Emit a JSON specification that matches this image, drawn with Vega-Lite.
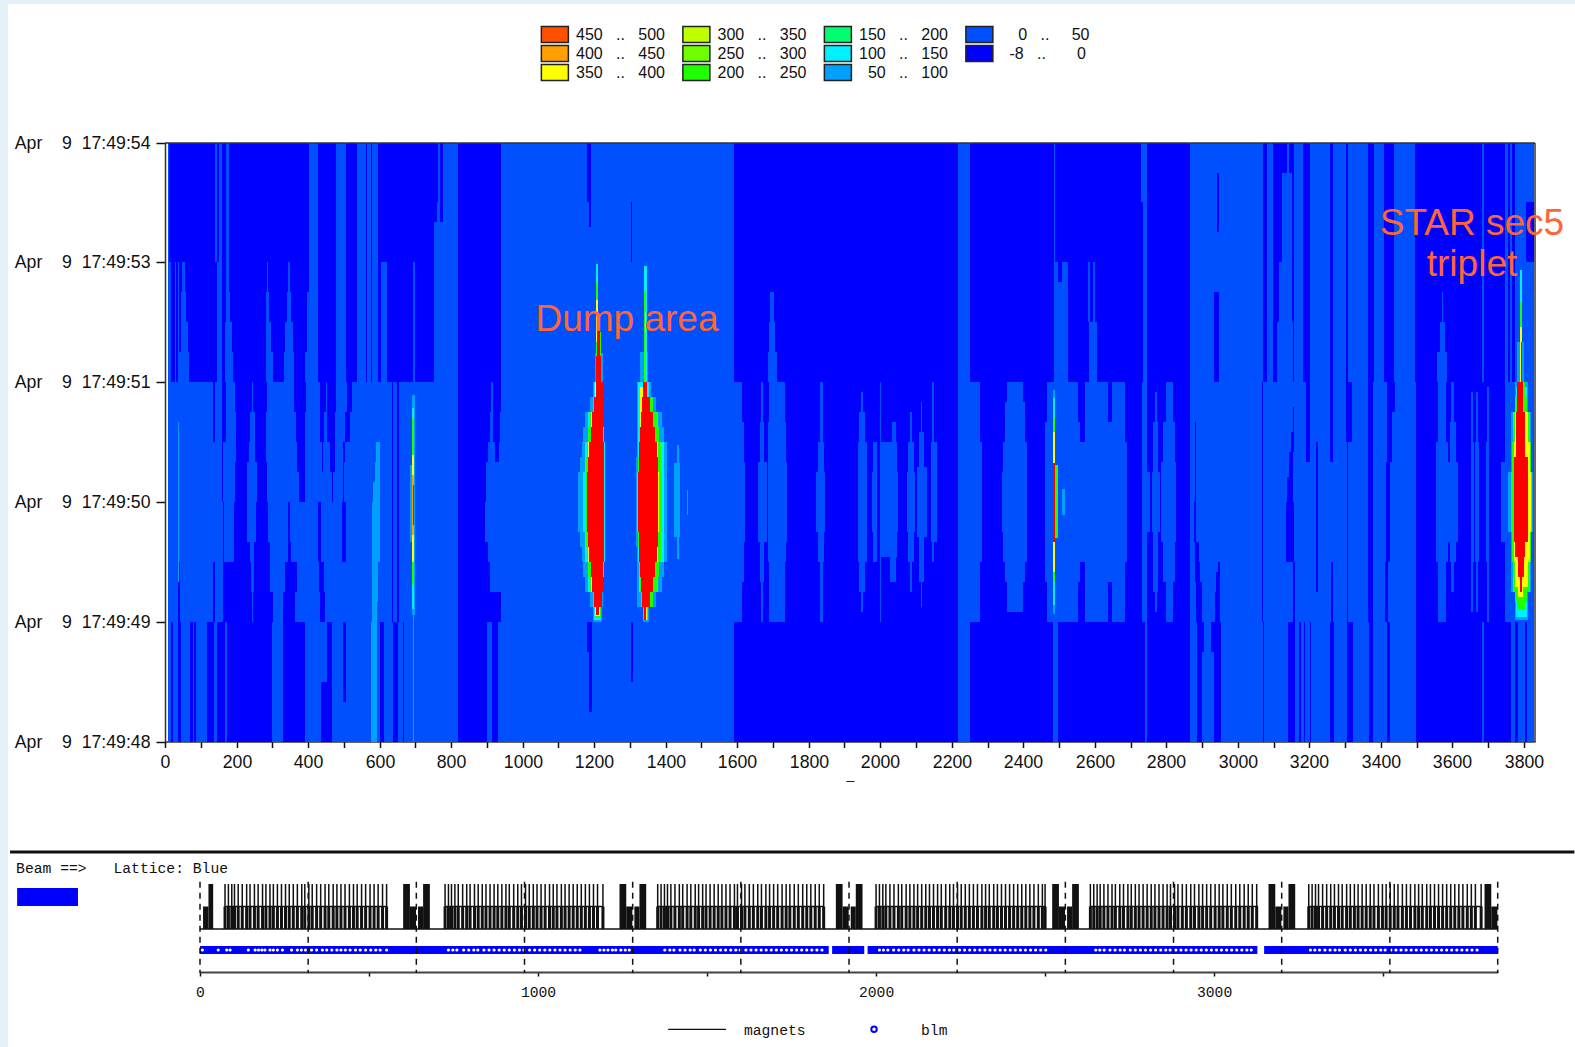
{"$schema":"https://vega.github.io/schema/vega-lite/v6.json","width":1575,"height":1047,"autosize":{"type":"fit","contains":"padding"},"padding":{"left":8,"top":4,"right":0,"bottom":0},"background":"#e4f1f8","view":{"fill":"white","stroke":null},
"config":{"font":"Liberation Sans","axis":{"grid":false,"labelColor":"#111","tickColor":"#111","domainColor":"#333"}},
"datasets":{
"contour":[
{"x":7,"x2":3828,"t":48,"t2":54,"b":"-8 .. 0"},
{"x":7,"x2":12,"t":51.6,"t2":54,"b":"0 .. 50"},{"x":139,"x2":145,"t":52.8,"t2":54,"b":"0 .. 50"},{"x":151,"x2":158,"t":52.8,"t2":54,"b":"0 .. 50"},{"x":145,"x2":158,"t":51.6,"t2":52.8,"b":"0 .. 50"},
{"x":170,"x2":180,"t":52.5,"t2":54,"b":"0 .. 50"},{"x":170,"x2":182,"t":52.2,"t2":52.5,"b":"0 .. 50"},{"x":168,"x2":186,"t":51.9,"t2":52.2,"b":"0 .. 50"},{"x":168,"x2":190,"t":51.6,"t2":51.9,"b":"0 .. 50"},
{"x":403,"x2":429,"t":52.5,"t2":54,"b":"0 .. 50"},{"x":397,"x2":429,"t":51.9,"t2":52.5,"b":"0 .. 50"},{"x":391,"x2":429,"t":51.6,"t2":51.9,"b":"0 .. 50"},
{"x":477,"x2":507,"t":51.6,"t2":54,"b":"0 .. 50"},{"x":536,"x2":561,"t":51.6,"t2":54,"b":"0 .. 50"},{"x":566,"x2":576,"t":51.6,"t2":54,"b":"0 .. 50"},{"x":579,"x2":597,"t":51.6,"t2":54,"b":"0 .. 50"},
{"x":763,"x2":769,"t":53.4,"t2":54,"b":"0 .. 50"},{"x":776,"x2":819,"t":53.2,"t2":54,"b":"0 .. 50"},{"x":760,"x2":770,"t":53.2,"t2":53.4,"b":"0 .. 50"},{"x":752,"x2":819,"t":51.6,"t2":53.2,"b":"0 .. 50"},
{"x":10,"x2":18,"t":51.6,"t2":52.8,"b":"0 .. 50"},{"x":27,"x2":30,"t":51.6,"t2":52.8,"b":"0 .. 50"},{"x":35,"x2":40,"t":51.6,"t2":52.8,"b":"0 .. 50"},{"x":48,"x2":55,"t":52.5,"t2":52.8,"b":"0 .. 50"},{"x":45,"x2":60,"t":52.2,"t2":52.5,"b":"0 .. 50"},{"x":45,"x2":64,"t":51.9,"t2":52.2,"b":"0 .. 50"},{"x":39,"x2":68,"t":51.6,"t2":51.9,"b":"0 .. 50"},
{"x":285,"x2":289,"t":52.5,"t2":52.8,"b":"0 .. 50"},{"x":283,"x2":291,"t":52.2,"t2":52.5,"b":"0 .. 50"},{"x":282,"x2":297,"t":51.9,"t2":52.2,"b":"0 .. 50"},{"x":282,"x2":301,"t":51.6,"t2":51.9,"b":"0 .. 50"},
{"x":345,"x2":350,"t":52.5,"t2":52.8,"b":"0 .. 50"},{"x":342,"x2":352,"t":52.2,"t2":52.5,"b":"0 .. 50"},{"x":335,"x2":358,"t":51.9,"t2":52.2,"b":"0 .. 50"},{"x":332,"x2":360,"t":51.6,"t2":51.9,"b":"0 .. 50"},
{"x":605,"x2":620,"t":51.6,"t2":52.8,"b":"0 .. 50"},{"x":694,"x2":700,"t":51.6,"t2":52.8,"b":"0 .. 50"},
{"x":940,"x2":1592,"t":48,"t2":54,"b":"0 .. 50"},
{"x":1693,"x2":1702,"t":52.2,"t2":52.5,"b":"0 .. 50"},{"x":1690,"x2":1705,"t":51.9,"t2":52.2,"b":"0 .. 50"},{"x":1687,"x2":1712,"t":51.6,"t2":51.9,"b":"0 .. 50"},
{"x":2218,"x2":2250,"t":48,"t2":54,"b":"0 .. 50"},
{"x":2487,"x2":2490,"t":52.8,"t2":54,"b":"0 .. 50"},{"x":2487,"x2":2497,"t":52.6,"t2":52.8,"b":"0 .. 50"},{"x":2508,"x2":2526,"t":52.6,"t2":52.8,"b":"0 .. 50"},{"x":2487,"x2":2526,"t":51.6,"t2":52.6,"b":"0 .. 50"},
{"x":2581,"x2":2586,"t":52.2,"t2":52.8,"b":"0 .. 50"},{"x":2595,"x2":2602,"t":52.2,"t2":52.8,"b":"0 .. 50"},{"x":2584,"x2":2605,"t":51.6,"t2":52.2,"b":"0 .. 50"},
{"x":2729,"x2":2746,"t":53.4,"t2":54,"b":"0 .. 50"},{"x":2736,"x2":2746,"t":51.6,"t2":53.4,"b":"0 .. 50"},
{"x":2865,"x2":3070,"t":51.6,"t2":54,"b":"0 .. 50"},{"x":3081,"x2":3099,"t":51.6,"t2":54,"b":"0 .. 50"},
{"x":3137,"x2":3144,"t":53.7,"t2":54,"b":"0 .. 50"},{"x":3123,"x2":3151,"t":52.8,"t2":53.7,"b":"0 .. 50"},{"x":3116,"x2":3151,"t":52.2,"t2":52.8,"b":"0 .. 50"},{"x":3109,"x2":3154,"t":51.6,"t2":52.2,"b":"0 .. 50"},
{"x":3158,"x2":3182,"t":51.6,"t2":54,"b":"0 .. 50"},{"x":3203,"x2":3257,"t":51.6,"t2":54,"b":"0 .. 50"},{"x":3265,"x2":3303,"t":51.6,"t2":54,"b":"0 .. 50"},{"x":3307,"x2":3365,"t":51.6,"t2":54,"b":"0 .. 50"},{"x":3381,"x2":3410,"t":51.6,"t2":54,"b":"0 .. 50"},{"x":3438,"x2":3496,"t":51.6,"t2":54,"b":"0 .. 50"},
{"x":3570,"x2":3574,"t":52.2,"t2":52.5,"b":"0 .. 50"},{"x":3565,"x2":3579,"t":51.9,"t2":52.2,"b":"0 .. 50"},{"x":3558,"x2":3586,"t":51.6,"t2":51.9,"b":"0 .. 50"},
{"x":3684,"x2":3688,"t":51.6,"t2":54,"b":"0 .. 50"},{"x":3748,"x2":3755,"t":51.6,"t2":54,"b":"0 .. 50"},{"x":3761,"x2":3768,"t":51.6,"t2":54,"b":"0 .. 50"},{"x":3775,"x2":3807,"t":52.8,"t2":54,"b":"0 .. 50"},{"x":3807,"x2":3828,"t":53.4,"t2":54,"b":"0 .. 50"},{"x":3775,"x2":3828,"t":51.6,"t2":52.8,"b":"0 .. 50"},
{"x":1181,"x2":1191,"t":53.4,"t2":54,"b":"-8 .. 0"},{"x":1187,"x2":1191,"t":53.15,"t2":53.4,"b":"-8 .. 0"},{"x":1303,"x2":1307,"t":52.8,"t2":53.4,"b":"-8 .. 0"},{"x":2941,"x2":2948,"t":53.1,"t2":53.7,"b":"-8 .. 0"},{"x":2934,"x2":2948,"t":51.6,"t2":52.5,"b":"-8 .. 0"},
{"x":7,"x2":17,"t":48,"t2":49.2,"b":"0 .. 50"},{"x":21,"x2":35,"t":48,"t2":49.2,"b":"0 .. 50"},{"x":45,"x2":70,"t":48,"t2":49.2,"b":"0 .. 50"},{"x":78,"x2":80,"t":48,"t2":49.2,"b":"0 .. 50"},{"x":88,"x2":117,"t":48,"t2":49.2,"b":"0 .. 50"},{"x":138,"x2":145,"t":48,"t2":49.2,"b":"0 .. 50"},{"x":167,"x2":174,"t":48,"t2":49.2,"b":"0 .. 50"},
{"x":299,"x2":331,"t":48,"t2":49.2,"b":"0 .. 50"},{"x":391,"x2":435,"t":48,"t2":49.2,"b":"0 .. 50"},{"x":435,"x2":452,"t":48.6,"t2":49.2,"b":"0 .. 50"},{"x":466,"x2":820,"t":48,"t2":49.2,"b":"0 .. 50"},{"x":901,"x2":915,"t":48,"t2":49.2,"b":"0 .. 50"},{"x":930,"x2":940,"t":48,"t2":49.2,"b":"0 .. 50"},
{"x":498,"x2":506,"t":48.4,"t2":49.2,"b":"-8 .. 0"},{"x":601,"x2":612,"t":48,"t2":49.2,"b":"-8 .. 0"},{"x":637,"x2":652,"t":48,"t2":49.2,"b":"-8 .. 0"},{"x":666,"x2":669,"t":48,"t2":49.2,"b":"-8 .. 0"},
{"x":1179,"x2":1194,"t":48.9,"t2":49.2,"b":"-8 .. 0"},{"x":1187,"x2":1193,"t":48.3,"t2":48.9,"b":"-8 .. 0"},{"x":1304,"x2":1308,"t":48.6,"t2":49.2,"b":"-8 .. 0"},
{"x":2482,"x2":2498,"t":48,"t2":49.2,"b":"0 .. 50"},{"x":2740,"x2":2747,"t":48,"t2":49.2,"b":"0 .. 50"},{"x":2866,"x2":2887,"t":48,"t2":49.2,"b":"0 .. 50"},{"x":2905,"x2":2925,"t":48.9,"t2":49.2,"b":"0 .. 50"},{"x":2901,"x2":2934,"t":48,"t2":48.9,"b":"0 .. 50"},{"x":2952,"x2":3070,"t":48,"t2":49.2,"b":"0 .. 50"},{"x":3074,"x2":3139,"t":48,"t2":49.2,"b":"0 .. 50"},{"x":3160,"x2":3171,"t":48,"t2":49.2,"b":"0 .. 50"},{"x":3176,"x2":3185,"t":48,"t2":49.2,"b":"0 .. 50"},{"x":3187,"x2":3201,"t":48,"t2":49.2,"b":"0 .. 50"},{"x":3205,"x2":3259,"t":48,"t2":49.2,"b":"0 .. 50"},{"x":3268,"x2":3305,"t":48,"t2":49.2,"b":"0 .. 50"},{"x":3323,"x2":3367,"t":48,"t2":49.2,"b":"0 .. 50"},{"x":3378,"x2":3416,"t":48,"t2":49.2,"b":"0 .. 50"},{"x":3426,"x2":3499,"t":48,"t2":49.2,"b":"0 .. 50"},{"x":3683,"x2":3689,"t":48,"t2":49.2,"b":"0 .. 50"},{"x":3765,"x2":3776,"t":48,"t2":49.2,"b":"0 .. 50"},{"x":3783,"x2":3803,"t":48,"t2":49.2,"b":"0 .. 50"},{"x":3810,"x2":3828,"t":48,"t2":49.2,"b":"0 .. 50"},
{"x":7,"x2":940,"t":49.2,"t2":51.6,"b":"0 .. 50"},{"x":1592,"x2":1613,"t":49.2,"t2":51.6,"b":"0 .. 50"},{"x":1592,"x2":1618,"t":49.6,"t2":51.2,"b":"0 .. 50"},{"x":1592,"x2":1622,"t":50,"t2":50.8,"b":"0 .. 50"},
{"x":1667,"x2":1671,"t":49.2,"t2":51.6,"b":"0 .. 50"},{"x":1664,"x2":1675,"t":49.6,"t2":51.2,"b":"0 .. 50"},{"x":1659,"x2":1683,"t":50,"t2":50.8,"b":"0 .. 50"},
{"x":1690,"x2":1734,"t":49.2,"t2":51.6,"b":"0 .. 50"},{"x":1687,"x2":1737,"t":49.8,"t2":51.2,"b":"0 .. 50"},{"x":1687,"x2":1740,"t":50,"t2":50.8,"b":"0 .. 50"},
{"x":1832,"x2":1839,"t":49.2,"t2":51.6,"b":"0 .. 50"},{"x":1827,"x2":1843,"t":49.8,"t2":51,"b":"0 .. 50"},{"x":1820,"x2":1846,"t":50.1,"t2":50.7,"b":"0 .. 50"},
{"x":1945,"x2":1951,"t":49.3,"t2":51.5,"b":"0 .. 50"},{"x":1942,"x2":1957,"t":49.5,"t2":51.3,"b":"0 .. 50"},{"x":1939,"x2":1964,"t":49.8,"t2":51,"b":"0 .. 50"},
{"x":1981,"x2":1990,"t":49.8,"t2":51,"b":"0 .. 50"},{"x":1976,"x2":1992,"t":50.1,"t2":50.7,"b":"0 .. 50"},{"x":1998,"x2":2001,"t":49.2,"t2":51.6,"b":"0 .. 50"},
{"x":1998,"x2":2046,"t":49.85,"t2":51,"b":"0 .. 50"},{"x":1998,"x2":2051,"t":50.1,"t2":50.7,"b":"0 .. 50"},{"x":2032,"x2":2043,"t":51,"t2":51.2,"b":"0 .. 50"},{"x":2027,"x2":2043,"t":49.6,"t2":49.85,"b":"0 .. 50"},
{"x":2083,"x2":2088,"t":49.5,"t2":51.3,"b":"0 .. 50"},{"x":2079,"x2":2094,"t":49.8,"t2":51,"b":"0 .. 50"},{"x":2074,"x2":2097,"t":50.1,"t2":50.7,"b":"0 .. 50"},
{"x":2113,"x2":2118,"t":49.35,"t2":51.4,"b":"0 .. 50"},{"x":2109,"x2":2122,"t":49.6,"t2":51.1,"b":"0 .. 50"},{"x":2104,"x2":2130,"t":50.05,"t2":50.75,"b":"0 .. 50"},
{"x":2146,"x2":2150,"t":49.8,"t2":51.6,"b":"0 .. 50"},{"x":2142,"x2":2158,"t":50,"t2":51,"b":"0 .. 50"},
{"x":2218,"x2":2279,"t":49.2,"t2":51.6,"b":"0 .. 50"},{"x":2218,"x2":2284,"t":49.8,"t2":51,"b":"0 .. 50"},
{"x":2354,"x2":2400,"t":49.3,"t2":51.6,"b":"0 .. 50"},{"x":2349,"x2":2405,"t":49.6,"t2":51.4,"b":"0 .. 50"},{"x":2344,"x2":2410,"t":49.8,"t2":51,"b":"0 .. 50"},{"x":2340,"x2":2410,"t":50.1,"t2":50.7,"b":"0 .. 50"},
{"x":2465,"x2":2554,"t":49.2,"t2":51.6,"b":"0 .. 50"},{"x":2461,"x2":2563,"t":49.6,"t2":51.2,"b":"0 .. 50"},{"x":2461,"x2":2690,"t":49.8,"t2":51,"b":"0 .. 50"},{"x":2573,"x2":2638,"t":49.2,"t2":51.6,"b":"0 .. 50"},{"x":2647,"x2":2684,"t":49.2,"t2":51.6,"b":"0 .. 50"},{"x":2638,"x2":2647,"t":49.6,"t2":51.2,"b":"0 .. 50"},
{"x":2732,"x2":2746,"t":49.2,"t2":51.6,"b":"0 .. 50"},{"x":2731,"x2":2754,"t":50.1,"t2":50.7,"b":"0 .. 50"},
{"x":2768,"x2":2773,"t":49.3,"t2":51.5,"b":"0 .. 50"},{"x":2763,"x2":2777,"t":49.5,"t2":51.2,"b":"0 .. 50"},{"x":2759,"x2":2782,"t":50.1,"t2":50.7,"b":"0 .. 50"},
{"x":2799,"x2":2819,"t":49.2,"t2":51.6,"b":"0 .. 50"},{"x":2791,"x2":2824,"t":49.6,"t2":51.2,"b":"0 .. 50"},{"x":2786,"x2":2828,"t":50,"t2":50.8,"b":"0 .. 50"},
{"x":2866,"x2":3497,"t":49.2,"t2":51.6,"b":"0 .. 50"},
{"x":3560,"x2":3581,"t":49.2,"t2":51.6,"b":"0 .. 50"},{"x":3555,"x2":3588,"t":49.8,"t2":51,"b":"0 .. 50"},
{"x":3597,"x2":3604,"t":49.5,"t2":51.6,"b":"0 .. 50"},{"x":3593,"x2":3610,"t":49.8,"t2":51.2,"b":"0 .. 50"},{"x":3588,"x2":3616,"t":50,"t2":50.8,"b":"0 .. 50"},
{"x":3653,"x2":3658,"t":49.3,"t2":51.5,"b":"0 .. 50"},{"x":3665,"x2":3672,"t":49.3,"t2":51.5,"b":"0 .. 50"},{"x":3651,"x2":3660,"t":49.8,"t2":51,"b":"0 .. 50"},{"x":3663,"x2":3674,"t":49.8,"t2":51,"b":"0 .. 50"},
{"x":3698,"x2":3703,"t":49.2,"t2":51.55,"b":"0 .. 50"},{"x":3693,"x2":3703,"t":49.8,"t2":51,"b":"0 .. 50"},
{"x":3746,"x2":3828,"t":49.2,"t2":51.6,"b":"0 .. 50"},{"x":3737,"x2":3828,"t":50,"t2":50.8,"b":"0 .. 50"},
{"x":37,"x2":42,"t":49.2,"t2":49.8,"b":"-8 .. 0"},{"x":135,"x2":140,"t":51,"t2":51.6,"b":"-8 .. 0"},{"x":135,"x2":140,"t":49.2,"t2":49.8,"b":"-8 .. 0"},
{"x":160,"x2":170,"t":51,"t2":51.6,"b":"-8 .. 0"},{"x":159,"x2":163,"t":50.4,"t2":51,"b":"-8 .. 0"},{"x":161,"x2":165,"t":49.8,"t2":50.4,"b":"-8 .. 0"},{"x":163,"x2":186,"t":49.2,"t2":49.8,"b":"-8 .. 0"},
{"x":196,"x2":242,"t":51.3,"t2":51.6,"b":"-8 .. 0"},{"x":199,"x2":238,"t":51,"t2":51.3,"b":"-8 .. 0"},{"x":199,"x2":235,"t":50.8,"t2":51,"b":"-8 .. 0"},{"x":196,"x2":230,"t":50.4,"t2":50.8,"b":"-8 .. 0"},{"x":193,"x2":230,"t":50,"t2":50.4,"b":"-8 .. 0"},{"x":193,"x2":238,"t":49.8,"t2":50,"b":"-8 .. 0"},{"x":186,"x2":240,"t":49.5,"t2":49.8,"b":"-8 .. 0"},{"x":180,"x2":242,"t":49.2,"t2":49.5,"b":"-8 .. 0"},
{"x":247,"x2":284,"t":51.3,"t2":51.6,"b":"-8 .. 0"},{"x":251,"x2":283,"t":50.8,"t2":51.3,"b":"-8 .. 0"},{"x":256,"x2":284,"t":50.4,"t2":50.8,"b":"-8 .. 0"},{"x":254,"x2":289,"t":50,"t2":50.4,"b":"-8 .. 0"},{"x":250,"x2":294,"t":49.5,"t2":50,"b":"-8 .. 0"},{"x":245,"x2":301,"t":49.2,"t2":49.5,"b":"-8 .. 0"},
{"x":362,"x2":393,"t":51.3,"t2":51.6,"b":"-8 .. 0"},{"x":366,"x2":391,"t":51,"t2":51.3,"b":"-8 .. 0"},{"x":370,"x2":391,"t":50.7,"t2":51,"b":"-8 .. 0"},{"x":376,"x2":391,"t":50.4,"t2":50.7,"b":"-8 .. 0"},{"x":345,"x2":349,"t":50,"t2":50.4,"b":"-8 .. 0"},{"x":343,"x2":351,"t":49.8,"t2":50,"b":"-8 .. 0"},{"x":335,"x2":368,"t":49.5,"t2":49.8,"b":"-8 .. 0"},{"x":331,"x2":363,"t":49.2,"t2":49.5,"b":"-8 .. 0"},
{"x":433,"x2":449,"t":51.3,"t2":51.6,"b":"-8 .. 0"},{"x":452,"x2":478,"t":51.3,"t2":51.6,"b":"-8 .. 0"},{"x":433,"x2":445,"t":51,"t2":51.3,"b":"-8 .. 0"},{"x":452,"x2":475,"t":51,"t2":51.3,"b":"-8 .. 0"},{"x":440,"x2":443,"t":50.7,"t2":51,"b":"-8 .. 0"},{"x":461,"x2":475,"t":50.7,"t2":51,"b":"-8 .. 0"},{"x":466,"x2":471,"t":50.4,"t2":50.7,"b":"-8 .. 0"},{"x":429,"x2":435,"t":49.8,"t2":50.4,"b":"-8 .. 0"},{"x":431,"x2":445,"t":49.5,"t2":49.8,"b":"-8 .. 0"},{"x":433,"x2":447,"t":49.2,"t2":49.5,"b":"-8 .. 0"},
{"x":508,"x2":522,"t":51.3,"t2":51.6,"b":"-8 .. 0"},{"x":503,"x2":517,"t":51,"t2":51.3,"b":"-8 .. 0"},{"x":499,"x2":504,"t":50.8,"t2":51,"b":"-8 .. 0"},{"x":497,"x2":500,"t":50.4,"t2":50.8,"b":"-8 .. 0"},{"x":494,"x2":506,"t":49.8,"t2":50.4,"b":"-8 .. 0"},
{"x":634,"x2":638,"t":49.2,"t2":51.6,"b":"-8 .. 0"},{"x":648,"x2":654,"t":49.2,"t2":51.6,"b":"-8 .. 0"},
{"x":820,"x2":913,"t":51.3,"t2":51.6,"b":"-8 .. 0"},{"x":918,"x2":939,"t":51.3,"t2":51.6,"b":"-8 .. 0"},{"x":820,"x2":909,"t":51,"t2":51.3,"b":"-8 .. 0"},{"x":918,"x2":936,"t":51,"t2":51.3,"b":"-8 .. 0"},{"x":820,"x2":904,"t":50.8,"t2":51,"b":"-8 .. 0"},{"x":923,"x2":935,"t":50.8,"t2":51,"b":"-8 .. 0"},{"x":820,"x2":898,"t":50.4,"t2":50.8,"b":"-8 .. 0"},{"x":820,"x2":895,"t":50,"t2":50.4,"b":"-8 .. 0"},{"x":820,"x2":904,"t":49.8,"t2":50,"b":"-8 .. 0"},{"x":820,"x2":909,"t":49.5,"t2":49.8,"b":"-8 .. 0"},{"x":820,"x2":918,"t":49.2,"t2":49.5,"b":"-8 .. 0"},{"x":918,"x2":939,"t":49.2,"t2":49.5,"b":"-8 .. 0"},
{"x":2559,"x2":2573,"t":51,"t2":51.6,"b":"-8 .. 0"},{"x":2559,"x2":2570,"t":49.2,"t2":49.8,"b":"-8 .. 0"},
{"x":2880,"x2":2884,"t":50.4,"t2":51.2,"b":"-8 .. 0"},{"x":2877,"x2":2884,"t":50,"t2":50.4,"b":"-8 .. 0"},{"x":2880,"x2":2891,"t":49.8,"t2":50,"b":"-8 .. 0"},{"x":2880,"x2":2894,"t":49.6,"t2":49.8,"b":"-8 .. 0"},{"x":2884,"x2":2901,"t":49.2,"t2":49.6,"b":"-8 .. 0"},
{"x":2936,"x2":2950,"t":49.2,"t2":49.5,"b":"-8 .. 0"},{"x":2940,"x2":2951,"t":49.5,"t2":49.7,"b":"-8 .. 0"},{"x":2945,"x2":2951,"t":49.7,"t2":49.8,"b":"-8 .. 0"},
{"x":3068,"x2":3071,"t":49.2,"t2":51.6,"b":"-8 .. 0"},{"x":3153,"x2":3158,"t":51.1,"t2":51.35,"b":"-8 .. 0"},{"x":3148,"x2":3157,"t":50.9,"t2":51.1,"b":"-8 .. 0"},{"x":3143,"x2":3155,"t":50.65,"t2":50.9,"b":"-8 .. 0"},{"x":3138,"x2":3155,"t":50.4,"t2":50.65,"b":"-8 .. 0"},{"x":3136,"x2":3157,"t":49.8,"t2":50.4,"b":"-8 .. 0"},{"x":3155,"x2":3159,"t":49.2,"t2":49.8,"b":"-8 .. 0"},
{"x":3192,"x2":3201,"t":50.8,"t2":51.6,"b":"-8 .. 0"},{"x":3218,"x2":3223,"t":49.5,"t2":51,"b":"-8 .. 0"},{"x":3257,"x2":3265,"t":50.8,"t2":51.6,"b":"-8 .. 0"},{"x":3260,"x2":3265,"t":49.2,"t2":49.8,"b":"-8 .. 0"},{"x":3302,"x2":3318,"t":51,"t2":51.6,"b":"-8 .. 0"},{"x":3304,"x2":3308,"t":49.2,"t2":51,"b":"-8 .. 0"},{"x":3364,"x2":3378,"t":49.2,"t2":51.6,"b":"-8 .. 0"},
{"x":3416,"x2":3439,"t":51.3,"t2":51.6,"b":"-8 .. 0"},{"x":3416,"x2":3430,"t":50.8,"t2":51.3,"b":"-8 .. 0"},{"x":3414,"x2":3425,"t":49.8,"t2":50.8,"b":"-8 .. 0"},{"x":3411,"x2":3420,"t":49.2,"t2":49.8,"b":"-8 .. 0"},
{"x":590,"x2":601,"t":50.8,"t2":51,"b":"50 .. 100"},{"x":587,"x2":601,"t":50.6,"t2":50.8,"b":"50 .. 100"},{"x":582,"x2":601,"t":50.4,"t2":50.6,"b":"50 .. 100"},{"x":578,"x2":601,"t":49.8,"t2":50.4,"b":"50 .. 100"},{"x":578,"x2":597,"t":49.4,"t2":49.8,"b":"50 .. 100"},{"x":578,"x2":592,"t":49.2,"t2":49.4,"b":"50 .. 100"},{"x":577,"x2":592,"t":48,"t2":49.2,"b":"50 .. 100"},
{"x":36,"x2":40,"t":49.6,"t2":51.2,"b":"50 .. 100"},{"x":694,"x2":697,"t":48,"t2":49.3,"b":"50 .. 100"},
{"x":691,"x2":698,"t":49.27,"t2":51.47,"b":"50 .. 100"},{"x":686,"x2":698,"t":50,"t2":50.77,"b":"50 .. 100"},{"x":692,"x2":697,"t":49.33,"t2":51.34,"b":"100 .. 150"},{"x":692,"x2":697,"t":49.57,"t2":51.24,"b":"200 .. 250"},{"x":692,"x2":696,"t":49.8,"t2":50.87,"b":"350 .. 400"},{"x":692,"x2":696,"t":50.07,"t2":50.67,"b":"400 .. 450"},{"x":693,"x2":696,"t":50.17,"t2":50.57,"b":"500+"},
{"x":2484,"x2":2489,"t":49.28,"t2":51.52,"b":"50 .. 100"},{"x":2484,"x2":2489,"t":49.37,"t2":51.44,"b":"100 .. 150"},{"x":2484,"x2":2490,"t":49.6,"t2":51.24,"b":"200 .. 250"},{"x":2484,"x2":2497,"t":50.04,"t2":50.77,"b":"200 .. 250"},{"x":2484,"x2":2490,"t":49.7,"t2":51.1,"b":"350 .. 400"},{"x":2484,"x2":2488,"t":50,"t2":50.79,"b":"500+"},{"x":2507,"x2":2517,"t":50.27,"t2":50.53,"b":"50 .. 100"},
{"x":1423,"x2":1440,"t":50.05,"t2":50.79,"b":"50 .. 100"},{"x":1431,"x2":1436,"t":49.83,"t2":50.97,"b":"50 .. 100"},{"x":1459,"x2":1463,"t":50.27,"t2":50.52,"b":"50 .. 100"},
{"x":1198,"x2":1221,"t":49.2,"t2":51.6,"b":"50 .. 100"},{"x":1188,"x2":1224,"t":49.35,"t2":51.45,"b":"50 .. 100"},{"x":1174,"x2":1226,"t":49.5,"t2":51.3,"b":"50 .. 100"},{"x":1170,"x2":1228,"t":49.65,"t2":51.15,"b":"50 .. 100"},{"x":1165,"x2":1230,"t":49.8,"t2":51,"b":"50 .. 100"},{"x":1160,"x2":1230,"t":49.95,"t2":50.85,"b":"50 .. 100"},{"x":1156,"x2":1230,"t":50.1,"t2":50.7,"b":"50 .. 100"},
{"x":1199,"x2":1219,"t":49.22,"t2":51.6,"b":"100 .. 150"},{"x":1184,"x2":1226,"t":49.5,"t2":51.3,"b":"100 .. 150"},{"x":1174,"x2":1229,"t":49.8,"t2":51,"b":"100 .. 150"},{"x":1168,"x2":1229,"t":50.1,"t2":50.7,"b":"100 .. 150"},
{"x":1202,"x2":1218,"t":49.24,"t2":51.6,"b":"200 .. 250"},{"x":1198,"x2":1220,"t":49.35,"t2":51.45,"b":"200 .. 250"},{"x":1188,"x2":1225,"t":49.5,"t2":51.3,"b":"200 .. 250"},{"x":1184,"x2":1227,"t":49.65,"t2":51.15,"b":"200 .. 250"},{"x":1179,"x2":1228,"t":49.8,"t2":51,"b":"200 .. 250"},{"x":1177,"x2":1228,"t":49.95,"t2":50.85,"b":"200 .. 250"},{"x":1174,"x2":1228,"t":50.1,"t2":50.7,"b":"200 .. 250"},
{"x":1203,"x2":1217,"t":49.26,"t2":51.6,"b":"350 .. 400"},{"x":1192,"x2":1224,"t":49.5,"t2":51.3,"b":"350 .. 400"},{"x":1183,"x2":1228,"t":49.8,"t2":51,"b":"350 .. 400"},{"x":1179,"x2":1228,"t":50.1,"t2":50.7,"b":"350 .. 400"},
{"x":1204,"x2":1213,"t":49.27,"t2":51.6,"b":"500+"},{"x":1204,"x2":1224,"t":51,"t2":51.6,"b":"500+"},{"x":1201,"x2":1222,"t":49.35,"t2":51.45,"b":"500+"},{"x":1194,"x2":1225,"t":49.5,"t2":51.3,"b":"500+"},{"x":1190,"x2":1226,"t":49.65,"t2":51.15,"b":"500+"},{"x":1186,"x2":1227,"t":49.8,"t2":51,"b":"500+"},{"x":1184,"x2":1227,"t":49.95,"t2":50.85,"b":"500+"},{"x":1181,"x2":1227,"t":50.1,"t2":50.7,"b":"500+"},
{"x":1202,"x2":1224,"t":51.6,"t2":51.89,"b":"50 .. 100"},{"x":1204,"x2":1212,"t":51.6,"t2":52.78,"b":"100 .. 150"},{"x":1204,"x2":1220,"t":51.6,"t2":52.1,"b":"200 .. 250"},{"x":1205,"x2":1211,"t":52,"t2":52.6,"b":"200 .. 250"},{"x":1206,"x2":1211,"t":52,"t2":52.42,"b":"350 .. 400"},{"x":1209,"x2":1216,"t":51.86,"t2":52.12,"b":"500+"},{"x":1204,"x2":1218,"t":51.6,"t2":51.86,"b":"500+"},
{"x":1321,"x2":1358,"t":50.4,"t2":51.6,"b":"50 .. 100"},{"x":1336,"x2":1354,"t":49.2,"t2":50.4,"b":"50 .. 100"},{"x":1321,"x2":1372,"t":49.35,"t2":51.45,"b":"50 .. 100"},{"x":1321,"x2":1389,"t":49.5,"t2":51.3,"b":"50 .. 100"},{"x":1320,"x2":1396,"t":49.65,"t2":51.15,"b":"50 .. 100"},{"x":1319,"x2":1403,"t":49.8,"t2":51,"b":"50 .. 100"},{"x":1318,"x2":1403,"t":49.95,"t2":50.85,"b":"50 .. 100"},{"x":1317,"x2":1403,"t":50.1,"t2":50.7,"b":"50 .. 100"},
{"x":1324,"x2":1354,"t":50.4,"t2":51.6,"b":"100 .. 150"},{"x":1337,"x2":1351,"t":49.22,"t2":50.4,"b":"100 .. 150"},{"x":1326,"x2":1379,"t":49.5,"t2":51.3,"b":"100 .. 150"},{"x":1323,"x2":1396,"t":49.8,"t2":51,"b":"100 .. 150"},{"x":1321,"x2":1396,"t":50.1,"t2":50.7,"b":"100 .. 150"},
{"x":1327,"x2":1349,"t":50.4,"t2":51.5,"b":"200 .. 250"},{"x":1337,"x2":1349,"t":49.22,"t2":50.4,"b":"200 .. 250"},{"x":1331,"x2":1365,"t":49.35,"t2":51.45,"b":"200 .. 250"},{"x":1328,"x2":1375,"t":49.5,"t2":51.3,"b":"200 .. 250"},{"x":1326,"x2":1381,"t":49.65,"t2":51.15,"b":"200 .. 250"},{"x":1325,"x2":1386,"t":49.8,"t2":51,"b":"200 .. 250"},{"x":1324,"x2":1388,"t":49.95,"t2":50.85,"b":"200 .. 250"},{"x":1323,"x2":1389,"t":50.1,"t2":50.7,"b":"200 .. 250"},
{"x":1329,"x2":1347,"t":50.4,"t2":51.55,"b":"350 .. 400"},{"x":1339,"x2":1347,"t":49.22,"t2":50.4,"b":"350 .. 400"},{"x":1330,"x2":1365,"t":49.5,"t2":51.3,"b":"350 .. 400"},{"x":1326,"x2":1379,"t":49.8,"t2":51,"b":"350 .. 400"},{"x":1324,"x2":1382,"t":50.1,"t2":50.7,"b":"350 .. 400"},
{"x":1337,"x2":1349,"t":50.4,"t2":51.6,"b":"500+"},{"x":1340,"x2":1344,"t":49.22,"t2":50.4,"b":"500+"},{"x":1334,"x2":1356,"t":49.35,"t2":51.45,"b":"500+"},{"x":1331,"x2":1364,"t":49.5,"t2":51.3,"b":"500+"},{"x":1329,"x2":1371,"t":49.65,"t2":51.15,"b":"500+"},{"x":1326,"x2":1377,"t":49.8,"t2":51,"b":"500+"},{"x":1325,"x2":1378,"t":49.95,"t2":50.85,"b":"500+"},{"x":1324,"x2":1379,"t":50.1,"t2":50.7,"b":"500+"},
{"x":1328,"x2":1352,"t":51.6,"t2":51.9,"b":"50 .. 100"},{"x":1339,"x2":1347,"t":51.6,"t2":52.76,"b":"100 .. 150"},{"x":1340,"x2":1346,"t":51.6,"t2":52.5,"b":"200 .. 250"},{"x":1341,"x2":1346,"t":51.6,"t2":52.3,"b":"350 .. 400"},{"x":1342,"x2":1345,"t":51.6,"t2":52.1,"b":"400 .. 450"},
{"x":3775,"x2":3812,"t":49.22,"t2":51.6,"b":"50 .. 100"},{"x":3765,"x2":3821,"t":49.5,"t2":51.3,"b":"50 .. 100"},{"x":3756,"x2":3826,"t":50.1,"t2":50.7,"b":"50 .. 100"},
{"x":3777,"x2":3809,"t":49.25,"t2":51.55,"b":"100 .. 150"},{"x":3770,"x2":3818,"t":49.5,"t2":51.3,"b":"100 .. 150"},{"x":3766,"x2":3821,"t":49.8,"t2":51,"b":"100 .. 150"},{"x":3763,"x2":3823,"t":50.1,"t2":50.7,"b":"100 .. 150"},
{"x":3781,"x2":3803,"t":49.32,"t2":51.6,"b":"200 .. 250"},{"x":3776,"x2":3810,"t":49.4,"t2":51.45,"b":"200 .. 250"},{"x":3772,"x2":3816,"t":49.5,"t2":51.3,"b":"200 .. 250"},{"x":3770,"x2":3817,"t":49.65,"t2":51.15,"b":"200 .. 250"},{"x":3768,"x2":3819,"t":49.8,"t2":51,"b":"200 .. 250"},{"x":3766,"x2":3820,"t":49.95,"t2":50.85,"b":"200 .. 250"},{"x":3765,"x2":3821,"t":50.1,"t2":50.7,"b":"200 .. 250"},
{"x":3784,"x2":3798,"t":49.45,"t2":51.6,"b":"350 .. 400"},{"x":3775,"x2":3812,"t":49.55,"t2":51.3,"b":"350 .. 400"},{"x":3772,"x2":3817,"t":49.8,"t2":51,"b":"350 .. 400"},{"x":3771,"x2":3820,"t":50.1,"t2":50.7,"b":"350 .. 400"},
{"x":3781,"x2":3797,"t":50.4,"t2":51.6,"b":"500+"},{"x":3778,"x2":3803,"t":50.4,"t2":51.3,"b":"500+"},{"x":3772,"x2":3812,"t":50,"t2":50.85,"b":"500+"},{"x":3775,"x2":3803,"t":49.85,"t2":50.4,"b":"500+"},{"x":3789,"x2":3796,"t":49.5,"t2":50.4,"b":"500+"},{"x":3783,"x2":3799,"t":49.65,"t2":49.85,"b":"500+"},
{"x":3781,"x2":3800,"t":51.6,"t2":52,"b":"50 .. 100"},{"x":3789,"x2":3794,"t":51.6,"t2":52.72,"b":"100 .. 150"},{"x":3789,"x2":3794,"t":51.6,"t2":52.4,"b":"200 .. 250"},{"x":3788,"x2":3794,"t":51.6,"t2":52.15,"b":"350 .. 400"},{"x":3791,"x2":3794,"t":51.6,"t2":52,"b":"500+"}
],
"notes":[{"x":1292,"t":52.22,"s":"Dump area"},{"x":3654,"t":53.18,"s":"STAR sec5"},{"x":3654,"t":52.77,"s":"triplet"}],
"frameh":[{"x":0,"x2":3831,"t":54}],"framev":[{"x":3831,"t":48,"t2":54}],
"sectors":[{"u":0,"a":1.05,"b":-0.98},{"u":320,"a":1.05,"b":-0.98},{"u":640,"a":1.05,"b":-0.98},{"u":960,"a":1.05,"b":-0.98},{"u":1280,"a":1.05,"b":-0.98},{"u":1600,"a":1.05,"b":-0.98},{"u":1920,"a":1.05,"b":-0.98},{"u":2240,"a":1.05,"b":-0.98},{"u":2560,"a":1.05,"b":-0.98},{"u":2880,"a":1.05,"b":-0.98},{"u":3200,"a":1.05,"b":-0.98},{"u":3520,"a":1.05,"b":-0.98},{"u":3839,"a":1.05,"b":-0.98}],
"lines":[{"u":0,"u2":3839,"y":0},{"u":74,"u2":553,"y":0.5},{"u":725,"u2":1192,"y":0.5},{"u":1354,"u2":1845,"y":0.5},{"u":2000,"u2":2500,"y":0.5},{"u":2634,"u2":3130,"y":0.5},{"u":3280,"u2":3790,"y":0.5},{"u":1385,"u2":1556,"y":-2.23}],
"blocks":[{"u":25,"u2":39,"a":0,"h":1},{"u":9,"u2":25,"a":0,"h":0.5},{"u":601,"u2":621,"a":0,"h":1},{"u":621,"u2":639,"a":0,"h":0.5},{"u":660,"u2":680,"a":0,"h":1},{"u":645,"u2":660,"a":0,"h":0.5},{"u":1241,"u2":1261,"a":0,"h":1},{"u":1261,"u2":1279,"a":0,"h":0.5},{"u":1300,"u2":1320,"a":0,"h":1},{"u":1285,"u2":1300,"a":0,"h":0.5},{"u":1881,"u2":1901,"a":0,"h":1},{"u":1901,"u2":1919,"a":0,"h":0.5},{"u":1940,"u2":1960,"a":0,"h":1},{"u":1925,"u2":1940,"a":0,"h":0.5},{"u":2521,"u2":2541,"a":0,"h":1},{"u":2541,"u2":2559,"a":0,"h":0.5},{"u":2580,"u2":2600,"a":0,"h":1},{"u":2565,"u2":2580,"a":0,"h":0.5},{"u":3161,"u2":3181,"a":0,"h":1},{"u":3181,"u2":3199,"a":0,"h":0.5},{"u":3220,"u2":3240,"a":0,"h":1},{"u":3205,"u2":3220,"a":0,"h":0.5},{"u":3800,"u2":3820,"a":0,"h":1},{"u":3820,"u2":3838,"a":0,"h":0.5}],
"magnets":[{"u":74,"a":0,"b":1,"c":0.5},{"u":84,"a":0,"b":1,"c":0.5},{"u":94,"a":0,"b":1,"c":0.5},{"u":102,"a":0,"b":1,"c":0.5},{"u":113,"a":0,"b":1,"c":0.5},{"u":125,"a":0,"b":1,"c":0.5},{"u":138,"a":0,"b":1,"c":0.5},{"u":148,"a":0,"b":1,"c":0.5},{"u":161,"a":0,"b":1,"c":0.5},{"u":172,"a":0,"b":1,"c":0.5},{"u":185,"a":0,"b":1,"c":0.5},{"u":195,"a":0,"b":1,"c":0.5},{"u":207,"a":0,"b":1,"c":0.5},{"u":217,"a":0,"b":1,"c":0.5},{"u":229,"a":0,"b":1,"c":0.5},{"u":241,"a":0,"b":1,"c":0.5},{"u":253,"a":0,"b":1,"c":0.5},{"u":264,"a":0,"b":1,"c":0.5},{"u":276,"a":0,"b":1,"c":0.5},{"u":288,"a":0,"b":1,"c":0.5},{"u":301,"a":0,"b":1,"c":0.5},{"u":310,"a":0,"b":1,"c":0.5},{"u":322,"a":0,"b":1,"c":0.5},{"u":332,"a":0,"b":1,"c":0.5},{"u":345,"a":0,"b":1,"c":0.5},{"u":357,"a":0,"b":1,"c":0.5},{"u":370,"a":0,"b":1,"c":0.5},{"u":381,"a":0,"b":1,"c":0.5},{"u":394,"a":0,"b":1,"c":0.5},{"u":405,"a":0,"b":1,"c":0.5},{"u":417,"a":0,"b":1,"c":0.5},{"u":429,"a":0,"b":1,"c":0.5},{"u":442,"a":0,"b":1,"c":0.5},{"u":454,"a":0,"b":1,"c":0.5},{"u":465,"a":0,"b":1,"c":0.5},{"u":478,"a":0,"b":1,"c":0.5},{"u":490,"a":0,"b":1,"c":0.5},{"u":503,"a":0,"b":1,"c":0.5},{"u":515,"a":0,"b":1,"c":0.5},{"u":527,"a":0,"b":1,"c":0.5},{"u":540,"a":0,"b":1,"c":0.5},{"u":552,"a":0,"b":1,"c":0.5},
{"u":725,"a":0,"b":1,"c":0.5},{"u":735,"a":0,"b":1,"c":0.5},{"u":744,"a":0,"b":1,"c":0.5},{"u":754,"a":0,"b":1,"c":0.5},{"u":764,"a":0,"b":1,"c":0.5},{"u":777,"a":0,"b":1,"c":0.5},{"u":789,"a":0,"b":1,"c":0.5},{"u":799,"a":0,"b":1,"c":0.5},{"u":812,"a":0,"b":1,"c":0.5},{"u":823,"a":0,"b":1,"c":0.5},{"u":835,"a":0,"b":1,"c":0.5},{"u":846,"a":0,"b":1,"c":0.5},{"u":858,"a":0,"b":1,"c":0.5},{"u":870,"a":0,"b":1,"c":0.5},{"u":881,"a":0,"b":1,"c":0.5},{"u":893,"a":0,"b":1,"c":0.5},{"u":905,"a":0,"b":1,"c":0.5},{"u":915,"a":0,"b":1,"c":0.5},{"u":928,"a":0,"b":1,"c":0.5},{"u":940,"a":0,"b":1,"c":0.5},{"u":951,"a":0,"b":1,"c":0.5},{"u":963,"a":0,"b":1,"c":0.5},{"u":974,"a":0,"b":1,"c":0.5},{"u":986,"a":0,"b":1,"c":0.5},{"u":997,"a":0,"b":1,"c":0.5},{"u":1009,"a":0,"b":1,"c":0.5},{"u":1021,"a":0,"b":1,"c":0.5},{"u":1034,"a":0,"b":1,"c":0.5},{"u":1045,"a":0,"b":1,"c":0.5},{"u":1056,"a":0,"b":1,"c":0.5},{"u":1069,"a":0,"b":1,"c":0.5},{"u":1080,"a":0,"b":1,"c":0.5},{"u":1092,"a":0,"b":1,"c":0.5},{"u":1104,"a":0,"b":1,"c":0.5},{"u":1116,"a":0,"b":1,"c":0.5},{"u":1128,"a":0,"b":1,"c":0.5},{"u":1140,"a":0,"b":1,"c":0.5},{"u":1152,"a":0,"b":1,"c":0.5},{"u":1164,"a":0,"b":1,"c":0.5},{"u":1176,"a":0,"b":1,"c":0.5},{"u":1192,"a":0,"b":1,"c":0.5},
{"u":1354,"a":0,"b":1,"c":0.5},{"u":1364,"a":0,"b":1,"c":0.5},{"u":1374,"a":0,"b":1,"c":0.5},{"u":1383,"a":0,"b":1,"c":0.5},{"u":1393,"a":0,"b":1,"c":0.5},{"u":1405,"a":0,"b":1,"c":0.5},{"u":1418,"a":0,"b":1,"c":0.5},{"u":1428,"a":0,"b":1,"c":0.5},{"u":1441,"a":0,"b":1,"c":0.5},{"u":1452,"a":0,"b":1,"c":0.5},{"u":1465,"a":0,"b":1,"c":0.5},{"u":1475,"a":0,"b":1,"c":0.5},{"u":1487,"a":0,"b":1,"c":0.5},{"u":1497,"a":0,"b":1,"c":0.5},{"u":1509,"a":0,"b":1,"c":0.5},{"u":1521,"a":0,"b":1,"c":0.5},{"u":1533,"a":0,"b":1,"c":0.5},{"u":1544,"a":0,"b":1,"c":0.5},{"u":1556,"a":0,"b":1,"c":0.5},{"u":1568,"a":0,"b":1,"c":0.5},{"u":1581,"a":0,"b":1,"c":0.5},{"u":1590,"a":0,"b":1,"c":0.5},{"u":1602,"a":0,"b":1,"c":0.5},{"u":1612,"a":0,"b":1,"c":0.5},{"u":1625,"a":0,"b":1,"c":0.5},{"u":1637,"a":0,"b":1,"c":0.5},{"u":1650,"a":0,"b":1,"c":0.5},{"u":1661,"a":0,"b":1,"c":0.5},{"u":1674,"a":0,"b":1,"c":0.5},{"u":1685,"a":0,"b":1,"c":0.5},{"u":1697,"a":0,"b":1,"c":0.5},{"u":1709,"a":0,"b":1,"c":0.5},{"u":1722,"a":0,"b":1,"c":0.5},{"u":1734,"a":0,"b":1,"c":0.5},{"u":1745,"a":0,"b":1,"c":0.5},{"u":1758,"a":0,"b":1,"c":0.5},{"u":1770,"a":0,"b":1,"c":0.5},{"u":1783,"a":0,"b":1,"c":0.5},{"u":1795,"a":0,"b":1,"c":0.5},{"u":1807,"a":0,"b":1,"c":0.5},{"u":1820,"a":0,"b":1,"c":0.5},{"u":1832,"a":0,"b":1,"c":0.5},{"u":1845,"a":0,"b":1,"c":0.5},
{"u":2000,"a":0,"b":1,"c":0.5},{"u":2010,"a":0,"b":1,"c":0.5},{"u":2020,"a":0,"b":1,"c":0.5},{"u":2029,"a":0,"b":1,"c":0.5},{"u":2041,"a":0,"b":1,"c":0.5},{"u":2053,"a":0,"b":1,"c":0.5},{"u":2066,"a":0,"b":1,"c":0.5},{"u":2076,"a":0,"b":1,"c":0.5},{"u":2089,"a":0,"b":1,"c":0.5},{"u":2100,"a":0,"b":1,"c":0.5},{"u":2112,"a":0,"b":1,"c":0.5},{"u":2123,"a":0,"b":1,"c":0.5},{"u":2135,"a":0,"b":1,"c":0.5},{"u":2147,"a":0,"b":1,"c":0.5},{"u":2158,"a":0,"b":1,"c":0.5},{"u":2170,"a":0,"b":1,"c":0.5},{"u":2182,"a":0,"b":1,"c":0.5},{"u":2193,"a":0,"b":1,"c":0.5},{"u":2206,"a":0,"b":1,"c":0.5},{"u":2218,"a":0,"b":1,"c":0.5},{"u":2229,"a":0,"b":1,"c":0.5},{"u":2241,"a":0,"b":1,"c":0.5},{"u":2252,"a":0,"b":1,"c":0.5},{"u":2264,"a":0,"b":1,"c":0.5},{"u":2276,"a":0,"b":1,"c":0.5},{"u":2288,"a":0,"b":1,"c":0.5},{"u":2300,"a":0,"b":1,"c":0.5},{"u":2313,"a":0,"b":1,"c":0.5},{"u":2324,"a":0,"b":1,"c":0.5},{"u":2335,"a":0,"b":1,"c":0.5},{"u":2348,"a":0,"b":1,"c":0.5},{"u":2359,"a":0,"b":1,"c":0.5},{"u":2371,"a":0,"b":1,"c":0.5},{"u":2383,"a":0,"b":1,"c":0.5},{"u":2395,"a":0,"b":1,"c":0.5},{"u":2407,"a":0,"b":1,"c":0.5},{"u":2419,"a":0,"b":1,"c":0.5},{"u":2431,"a":0,"b":1,"c":0.5},{"u":2443,"a":0,"b":1,"c":0.5},{"u":2455,"a":0,"b":1,"c":0.5},{"u":2467,"a":0,"b":1,"c":0.5},{"u":2480,"a":0,"b":1,"c":0.5},{"u":2492,"a":0,"b":1,"c":0.5},{"u":2500,"a":0,"b":1,"c":0.5},
{"u":2634,"a":0,"b":1,"c":0.5},{"u":2644,"a":0,"b":1,"c":0.5},{"u":2654,"a":0,"b":1,"c":0.5},{"u":2663,"a":0,"b":1,"c":0.5},{"u":2674,"a":0,"b":1,"c":0.5},{"u":2686,"a":0,"b":1,"c":0.5},{"u":2698,"a":0,"b":1,"c":0.5},{"u":2708,"a":0,"b":1,"c":0.5},{"u":2721,"a":0,"b":1,"c":0.5},{"u":2732,"a":0,"b":1,"c":0.5},{"u":2745,"a":0,"b":1,"c":0.5},{"u":2755,"a":0,"b":1,"c":0.5},{"u":2767,"a":0,"b":1,"c":0.5},{"u":2778,"a":0,"b":1,"c":0.5},{"u":2790,"a":0,"b":1,"c":0.5},{"u":2802,"a":0,"b":1,"c":0.5},{"u":2814,"a":0,"b":1,"c":0.5},{"u":2825,"a":0,"b":1,"c":0.5},{"u":2837,"a":0,"b":1,"c":0.5},{"u":2849,"a":0,"b":1,"c":0.5},{"u":2861,"a":0,"b":1,"c":0.5},{"u":2871,"a":0,"b":1,"c":0.5},{"u":2883,"a":0,"b":1,"c":0.5},{"u":2893,"a":0,"b":1,"c":0.5},{"u":2906,"a":0,"b":1,"c":0.5},{"u":2918,"a":0,"b":1,"c":0.5},{"u":2931,"a":0,"b":1,"c":0.5},{"u":2942,"a":0,"b":1,"c":0.5},{"u":2955,"a":0,"b":1,"c":0.5},{"u":2966,"a":0,"b":1,"c":0.5},{"u":2978,"a":0,"b":1,"c":0.5},{"u":2990,"a":0,"b":1,"c":0.5},{"u":3003,"a":0,"b":1,"c":0.5},{"u":3015,"a":0,"b":1,"c":0.5},{"u":3026,"a":0,"b":1,"c":0.5},{"u":3039,"a":0,"b":1,"c":0.5},{"u":3051,"a":0,"b":1,"c":0.5},{"u":3064,"a":0,"b":1,"c":0.5},{"u":3076,"a":0,"b":1,"c":0.5},{"u":3089,"a":0,"b":1,"c":0.5},{"u":3101,"a":0,"b":1,"c":0.5},{"u":3113,"a":0,"b":1,"c":0.5},{"u":3126,"a":0,"b":1,"c":0.5},
{"u":3280,"a":0,"b":1,"c":0.5},{"u":3290,"a":0,"b":1,"c":0.5},{"u":3300,"a":0,"b":1,"c":0.5},{"u":3309,"a":0,"b":1,"c":0.5},{"u":3321,"a":0,"b":1,"c":0.5},{"u":3333,"a":0,"b":1,"c":0.5},{"u":3345,"a":0,"b":1,"c":0.5},{"u":3356,"a":0,"b":1,"c":0.5},{"u":3368,"a":0,"b":1,"c":0.5},{"u":3379,"a":0,"b":1,"c":0.5},{"u":3392,"a":0,"b":1,"c":0.5},{"u":3403,"a":0,"b":1,"c":0.5},{"u":3415,"a":0,"b":1,"c":0.5},{"u":3426,"a":0,"b":1,"c":0.5},{"u":3438,"a":0,"b":1,"c":0.5},{"u":3450,"a":0,"b":1,"c":0.5},{"u":3462,"a":0,"b":1,"c":0.5},{"u":3473,"a":0,"b":1,"c":0.5},{"u":3486,"a":0,"b":1,"c":0.5},{"u":3498,"a":0,"b":1,"c":0.5},{"u":3509,"a":0,"b":1,"c":0.5},{"u":3521,"a":0,"b":1,"c":0.5},{"u":3533,"a":0,"b":1,"c":0.5},{"u":3544,"a":0,"b":1,"c":0.5},{"u":3557,"a":0,"b":1,"c":0.5},{"u":3569,"a":0,"b":1,"c":0.5},{"u":3581,"a":0,"b":1,"c":0.5},{"u":3594,"a":0,"b":1,"c":0.5},{"u":3605,"a":0,"b":1,"c":0.5},{"u":3616,"a":0,"b":1,"c":0.5},{"u":3629,"a":0,"b":1,"c":0.5},{"u":3640,"a":0,"b":1,"c":0.5},{"u":3652,"a":0,"b":1,"c":0.5},{"u":3664,"a":0,"b":1,"c":0.5},{"u":3676,"a":0,"b":1,"c":0.5},{"u":3688,"a":0,"b":1,"c":0.5},{"u":3700,"a":0,"b":1,"c":0.5},{"u":3712,"a":0,"b":1,"c":0.5},{"u":3724,"a":0,"b":1,"c":0.5},{"u":3736,"a":0,"b":1,"c":0.5},{"u":3749,"a":0,"b":1,"c":0.5},{"u":3761,"a":0,"b":1,"c":0.5},{"u":3773,"a":0,"b":1,"c":0.5},{"u":3790,"a":0,"b":1,"c":0.5}],
"blmband":[{"u":0,"u2":1860,"y":-0.467},{"u":1870,"u2":1965,"y":-0.467},{"u":1975,"u2":3128,"y":-0.467},{"u":3148,"u2":3839,"y":-0.467}],
"blm":[{"u":7,"y":-0.467},{"u":54,"y":-0.467},{"u":79,"y":-0.467},{"u":89,"y":-0.467},{"u":143,"y":-0.467},{"u":163,"y":-0.467},{"u":173,"y":-0.467},{"u":183,"y":-0.467},{"u":192,"y":-0.467},{"u":207,"y":-0.467},{"u":217,"y":-0.467},{"u":229,"y":-0.467},{"u":244,"y":-0.467},{"u":271,"y":-0.467},{"u":288,"y":-0.467},{"u":300,"y":-0.467},{"u":312,"y":-0.467},{"u":330,"y":-0.467},{"u":345,"y":-0.467},{"u":362,"y":-0.467},{"u":375,"y":-0.467},{"u":390,"y":-0.467},{"u":405,"y":-0.467},{"u":417,"y":-0.467},{"u":430,"y":-0.467},{"u":444,"y":-0.467},{"u":460,"y":-0.467},{"u":474,"y":-0.467},{"u":490,"y":-0.467},{"u":505,"y":-0.467},{"u":520,"y":-0.467},{"u":533,"y":-0.467},{"u":552,"y":-0.467},
{"u":735,"y":-0.467},{"u":748,"y":-0.467},{"u":760,"y":-0.467},{"u":780,"y":-0.467},{"u":795,"y":-0.467},{"u":810,"y":-0.467},{"u":822,"y":-0.467},{"u":840,"y":-0.467},{"u":855,"y":-0.467},{"u":870,"y":-0.467},{"u":885,"y":-0.467},{"u":900,"y":-0.467},{"u":915,"y":-0.467},{"u":930,"y":-0.467},{"u":945,"y":-0.467},{"u":958,"y":-0.467},{"u":975,"y":-0.467},{"u":990,"y":-0.467},{"u":1005,"y":-0.467},{"u":1020,"y":-0.467},{"u":1035,"y":-0.467},{"u":1050,"y":-0.467},{"u":1065,"y":-0.467},{"u":1080,"y":-0.467},{"u":1095,"y":-0.467},{"u":1110,"y":-0.467},{"u":1124,"y":-0.467},{"u":1183,"y":-0.467},{"u":1195,"y":-0.467},{"u":1207,"y":-0.467},{"u":1220,"y":-0.467},{"u":1230,"y":-0.467},{"u":1245,"y":-0.467},{"u":1258,"y":-0.467},{"u":1270,"y":-0.467},
{"u":1375,"y":-0.467},{"u":1390,"y":-0.467},{"u":1402,"y":-0.467},{"u":1420,"y":-0.467},{"u":1435,"y":-0.467},{"u":1450,"y":-0.467},{"u":1462,"y":-0.467},{"u":1480,"y":-0.467},{"u":1495,"y":-0.467},{"u":1510,"y":-0.467},{"u":1525,"y":-0.467},{"u":1540,"y":-0.467},{"u":1555,"y":-0.467},{"u":1570,"y":-0.467},{"u":1585,"y":-0.467},{"u":1598,"y":-0.467},{"u":1615,"y":-0.467},{"u":1630,"y":-0.467},{"u":1645,"y":-0.467},{"u":1660,"y":-0.467},{"u":1675,"y":-0.467},{"u":1690,"y":-0.467},{"u":1705,"y":-0.467},{"u":1720,"y":-0.467},{"u":1735,"y":-0.467},{"u":1750,"y":-0.467},{"u":1765,"y":-0.467},{"u":1780,"y":-0.467},{"u":1795,"y":-0.467},{"u":1810,"y":-0.467},{"u":1825,"y":-0.467},{"u":1840,"y":-0.467},
{"u":2010,"y":-0.467},{"u":2022,"y":-0.467},{"u":2035,"y":-0.467},{"u":2052,"y":-0.467},{"u":2067,"y":-0.467},{"u":2082,"y":-0.467},{"u":2095,"y":-0.467},{"u":2112,"y":-0.467},{"u":2127,"y":-0.467},{"u":2142,"y":-0.467},{"u":2157,"y":-0.467},{"u":2172,"y":-0.467},{"u":2187,"y":-0.467},{"u":2202,"y":-0.467},{"u":2217,"y":-0.467},{"u":2230,"y":-0.467},{"u":2247,"y":-0.467},{"u":2262,"y":-0.467},{"u":2277,"y":-0.467},{"u":2292,"y":-0.467},{"u":2307,"y":-0.467},{"u":2322,"y":-0.467},{"u":2337,"y":-0.467},{"u":2352,"y":-0.467},{"u":2367,"y":-0.467},{"u":2382,"y":-0.467},{"u":2397,"y":-0.467},{"u":2412,"y":-0.467},{"u":2427,"y":-0.467},{"u":2442,"y":-0.467},{"u":2457,"y":-0.467},{"u":2472,"y":-0.467},{"u":2487,"y":-0.467},{"u":2502,"y":-0.467},
{"u":2650,"y":-0.467},{"u":2662,"y":-0.467},{"u":2675,"y":-0.467},{"u":2692,"y":-0.467},{"u":2707,"y":-0.467},{"u":2722,"y":-0.467},{"u":2735,"y":-0.467},{"u":2752,"y":-0.467},{"u":2767,"y":-0.467},{"u":2782,"y":-0.467},{"u":2797,"y":-0.467},{"u":2812,"y":-0.467},{"u":2827,"y":-0.467},{"u":2842,"y":-0.467},{"u":2857,"y":-0.467},{"u":2870,"y":-0.467},{"u":2887,"y":-0.467},{"u":2902,"y":-0.467},{"u":2917,"y":-0.467},{"u":2932,"y":-0.467},{"u":2947,"y":-0.467},{"u":2962,"y":-0.467},{"u":2977,"y":-0.467},{"u":2992,"y":-0.467},{"u":3007,"y":-0.467},{"u":3022,"y":-0.467},{"u":3037,"y":-0.467},{"u":3052,"y":-0.467},{"u":3067,"y":-0.467},{"u":3082,"y":-0.467},{"u":3097,"y":-0.467},{"u":3110,"y":-0.467},
{"u":3285,"y":-0.467},{"u":3298,"y":-0.467},{"u":3312,"y":-0.467},{"u":3328,"y":-0.467},{"u":3343,"y":-0.467},{"u":3358,"y":-0.467},{"u":3371,"y":-0.467},{"u":3388,"y":-0.467},{"u":3403,"y":-0.467},{"u":3418,"y":-0.467},{"u":3433,"y":-0.467},{"u":3448,"y":-0.467},{"u":3463,"y":-0.467},{"u":3478,"y":-0.467},{"u":3493,"y":-0.467},{"u":3506,"y":-0.467},{"u":3523,"y":-0.467},{"u":3538,"y":-0.467},{"u":3553,"y":-0.467},{"u":3568,"y":-0.467},{"u":3583,"y":-0.467},{"u":3598,"y":-0.467},{"u":3613,"y":-0.467},{"u":3628,"y":-0.467},{"u":3643,"y":-0.467},{"u":3658,"y":-0.467},{"u":3673,"y":-0.467},{"u":3688,"y":-0.467},{"u":3703,"y":-0.467},{"u":3718,"y":-0.467},{"u":3733,"y":-0.467},{"u":3748,"y":-0.467},{"u":3763,"y":-0.467},{"u":3778,"y":-0.467}],
"texts":[{"u":-544,"y":1.34,"s":"Beam ==>"},{"u":-256,"y":1.34,"s":"Lattice: Blue"},{"u":1609,"y":-2.277,"s":"magnets"},{"u":2133,"y":-2.277,"s":"blm"}],
"sep":[{"u":-562,"u2":4066,"y":1.71}],
"beam":[{"u":-541,"u2":-361,"y":0.911,"y2":0.511}],
"keydot":[{"u":1994,"y":-2.23}]
},
"layer":[
{"layer":[
{"data":{"name":"contour"},"mark":{"type":"rect","strokeWidth":0},
"encoding":{
"x":{"field":"x","type":"quantitative","scale":{"domain":[0,3831],"range":[157,1527],"nice":false,"zero":false,"round":true},
"axis":{"orient":"bottom","title":"_","titleFontSize":14,"titleFontWeight":"normal","titlePadding":-4,"titleColor":"#222","offset":-305.5,"values":[0,100,200,300,400,500,600,700,800,900,1000,1100,1200,1300,1400,1500,1600,1700,1800,1900,2000,2100,2200,2300,2400,2500,2600,2700,2800,2900,3000,3100,3200,3300,3400,3500,3600,3700,3800],"labelExpr":"datum.value%200==0?format(datum.value,'d'):''","labelFont":"Liberation Sans","labelFontSize":17.7,"labelPadding":6,"labelOverlap":false,"labelFlush":false,"tickSize":6,"tickWidth":1.5,"domainWidth":1.5}},
"x2":{"field":"x2"},
"y":{"field":"t","type":"quantitative","scale":{"domain":[48,54],"range":[737.5,138.6],"nice":false,"zero":false,"round":true},
"axis":{"orient":"left","title":null,"offset":-157,"values":[48,49.2,50.4,51.6,52.8,54],"labelExpr":"'Apr\u00a0\u00a0\u00a0\u00a09\u00a0\u00a017:49:'+(datum.value==54?'54':datum.value==52.8?'53':datum.value==51.6?'51':datum.value==50.4?'50':datum.value==49.2?'49':'48')","labelFont":"Liberation Sans","labelFontSize":17.7,"labelPadding":6,"labelOverlap":false,"labelFlush":false,"tickSize":9,"tickWidth":1.5,"domainWidth":1.5}},
"y2":{"field":"t2"},
"color":{"field":"b","type":"nominal","scale":{"domain":["450 .. 500","400 .. 450","350 .. 400","300 .. 350","250 .. 300","200 .. 250","150 .. 200","100 .. 150","50 .. 100","0 .. 50","-8 .. 0","500+"],"range":["#ff5000","#ffa000","#ffff00","#bfff00","#70ff00","#20ff00","#00ff70","#00f0ff","#00a0ff","#0050ff","#0000ff","#ff0000"]},
"legend":{"title":null,"orient":"none","legendX":532,"legendY":21,"columns":4,"values":["450 .. 500","400 .. 450","350 .. 400","300 .. 350","250 .. 300","200 .. 250","150 .. 200","100 .. 150","50 .. 100","0 .. 50","-8 .. 0"],"symbolType":"M-0.95,-1.07L2.65,-1.07L2.65,1.07L-0.95,1.07Z","symbolSize":225,"symbolStrokeColor":"#222","symbolStrokeWidth":1.5,"labelFont":"Liberation Sans","labelFontSize":16,"labelColor":"#111","labelOffset":19,"clipHeight":19,"rowPadding":0,"columnPadding":16.5,"padding":0,"gridAlign":"all","labelExpr":"'\u200b'+pad(split(datum.label,' .. ')[0],3,'\u2007','left')+'\u00a0\u00a0\u00a0..\u00a0\u00a0\u00a0'+pad(split(datum.label,' .. ')[1],3,'\u2007','left')"}}
}},
{"data":{"name":"frameh"},"mark":{"type":"rule","color":"#333","strokeWidth":1.5},"encoding":{"x":{"field":"x","type":"quantitative","scale":{"domain":[0,3831],"range":[157,1527],"nice":false,"zero":false,"round":true}},"x2":{"field":"x2"},"y":{"field":"t","type":"quantitative","scale":{"domain":[48,54],"range":[737.5,138.6],"nice":false,"zero":false,"round":true}}}},
{"data":{"name":"framev"},"mark":{"type":"rule","color":"#333","strokeWidth":1.5},"encoding":{"x":{"field":"x","type":"quantitative","scale":{"domain":[0,3831],"range":[157,1527],"nice":false,"zero":false,"round":true}},"y":{"field":"t","type":"quantitative","scale":{"domain":[48,54],"range":[737.5,138.6],"nice":false,"zero":false,"round":true}},"y2":{"field":"t2"}}},
{"data":{"name":"notes"},"mark":{"type":"text","color":"#ff6633","font":"Liberation Sans","fontSize":37,"align":"center","baseline":"middle"},"encoding":{"x":{"field":"x","type":"quantitative","scale":{"domain":[0,3831],"range":[157,1527],"nice":false,"zero":false,"round":true}},"y":{"field":"t","type":"quantitative","scale":{"domain":[48,54],"range":[737.5,138.6],"nice":false,"zero":false,"round":true}},"text":{"field":"s","type":"nominal"}}}
]},
{"layer":[
{"data":{"name":"sep"},"mark":{"type":"rule","color":"#111","strokeWidth":3},"encoding":{"x":{"field":"u","type":"quantitative","scale":{"domain":[0,3839],"range":[192,1489.7],"nice":false,"zero":false},"axis":{"orient":"bottom","title":null,"offset":-75,"values":[0,500,1000,1500,2000,2500,3000,3500],"labelExpr":"datum.value%1000==0?format(datum.value,'d'):''","labelFont":"Liberation Mono","labelFontSize":14.7,"labelPadding":8,"labelOverlap":false,"labelFlush":false,"tickSize":4,"tickWidth":1.5,"domainWidth":2,"domainColor":"#444"}},"x2":{"field":"u2"},"y":{"field":"y","type":"quantitative","axis":null,"scale":{"domain":[0,1],"range":[925,880],"nice":false,"zero":false}}}},
{"data":{"name":"lines"},"mark":{"type":"rule","color":"#111","strokeWidth":1.3},"encoding":{"x":{"field":"u","type":"quantitative"},"x2":{"field":"u2"},"y":{"field":"y","type":"quantitative","axis":null}}},
{"data":{"name":"magnets"},"mark":{"type":"rule","color":"#111","strokeWidth":1.5},"encoding":{"x":{"field":"u","type":"quantitative"},"y":{"field":"a","type":"quantitative","axis":null},"y2":{"field":"b"}}},
{"data":{"name":"magnets"},"mark":{"type":"rule","color":"#111","strokeWidth":3},"encoding":{"x":{"field":"u","type":"quantitative"},"y":{"field":"a","type":"quantitative","axis":null},"y2":{"field":"c"}}},
{"data":{"name":"blocks"},"mark":{"type":"rect","color":"#111"},"encoding":{"x":{"field":"u","type":"quantitative"},"x2":{"field":"u2"},"y":{"field":"a","type":"quantitative","axis":null},"y2":{"field":"h"}}},
{"data":{"name":"blmband"},"mark":{"type":"rule","color":"#0000ff","strokeWidth":8},"encoding":{"x":{"field":"u","type":"quantitative"},"x2":{"field":"u2"},"y":{"field":"y","type":"quantitative","axis":null}}},
{"data":{"name":"blm"},"mark":{"type":"point","shape":"circle","size":10,"filled":true,"fill":"white","stroke":"white","strokeWidth":0,"opacity":1},"encoding":{"x":{"field":"u","type":"quantitative"},"y":{"field":"y","type":"quantitative","axis":null}}},
{"data":{"name":"sectors"},"mark":{"type":"rule","color":"#111","strokeWidth":1.5,"strokeDash":[6,5]},"encoding":{"x":{"field":"u","type":"quantitative"},"y":{"field":"a","type":"quantitative","axis":null},"y2":{"field":"b"}}},
{"data":{"name":"beam"},"mark":{"type":"rect","color":"#0000ff"},"encoding":{"x":{"field":"u","type":"quantitative"},"x2":{"field":"u2"},"y":{"field":"y","type":"quantitative","axis":null},"y2":{"field":"y2"}}},
{"data":{"name":"keydot"},"mark":{"type":"point","shape":"circle","size":30,"filled":false,"color":"#0000ff","strokeWidth":2,"opacity":1},"encoding":{"x":{"field":"u","type":"quantitative"},"y":{"field":"y","type":"quantitative","axis":null}}},
{"data":{"name":"texts"},"mark":{"type":"text","color":"#111","font":"Liberation Mono","fontSize":14.7,"align":"left","baseline":"middle"},"encoding":{"x":{"field":"u","type":"quantitative"},"y":{"field":"y","type":"quantitative","axis":null},"text":{"field":"s","type":"nominal"}}}
]}
],
"resolve":{"scale":{"x":"independent","y":"independent"}}
}
